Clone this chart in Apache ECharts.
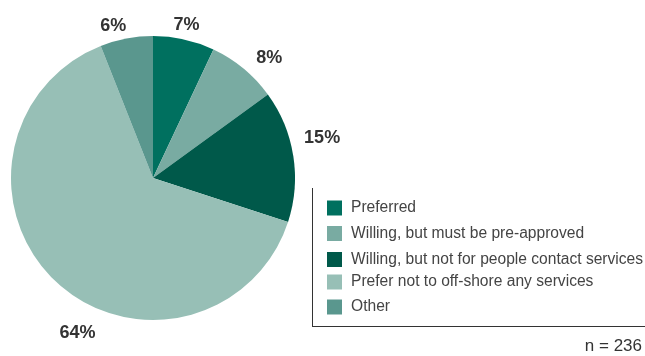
<!DOCTYPE html>
<html>
<head>
<meta charset="utf-8">
<script src="https://cdn.jsdelivr.net/npm/echarts@6/dist/echarts.min.js"></script>
<style>
  html, body { margin: 0; padding: 0; background: #fff; }
  #chart { width: 645px; height: 356px; }
</style>
</head>
<body>
<div id="chart"></div>
<script>
// Survey responses on off-shoring services
const categories = [
  'Preferred',
  'Willing, but must be pre-approved',
  'Willing, but not for people contact services',
  'Prefer not to off-shore any services',
  'Other'
];
const shares = [7, 8, 15, 64, 6];
const sliceColors = ['#00705f', '#79aba2', '#00594a', '#97bfb6', '#5a978e'];
const sampleNote = 'n = 236';

// small hand adjustments so percentage labels sit clear of the legend
const labelNudges = [[-18, -3], [0, -1], [-6, -16], [53, 43], [7, -1]];
// vertical position of each legend row
const legendRowTops = [200, 225.5, 251.5, 274, 299];

const chart = echarts.init(document.getElementById('chart'), null, { renderer: 'canvas' });

const FONT = '"Liberation Sans", Arial, Helvetica, sans-serif';

const legends = categories.map((name, i) => ({
  orient: 'vertical',
  left: 322,
  top: legendRowTops[i],
  padding: [0, 5],
  itemWidth: 15,
  itemHeight: 15,
  icon: 'rect',
  selectedMode: false,
  textStyle: { fontFamily: FONT, fontSize: 15.6, color: '#444', lineHeight: 15, padding: [0, 0, 0, 4] },
  data: [name]
}));

chart.setOption({
  animation: false,
  color: sliceColors,
  legend: legends,
  graphic: [
    { type: 'line', shape: { x1: 312.5, y1: 188, x2: 312.5, y2: 326.5 }, style: { stroke: '#333', lineWidth: 1 } },
    { type: 'line', shape: { x1: 312, y1: 326.5, x2: 645, y2: 326.5 }, style: { stroke: '#333', lineWidth: 1 } },
    { type: 'text', right: 3, top: 338, style: { text: sampleNote, font: '17px ' + FONT, fill: '#333' } }
  ],
  series: [{
    type: 'pie',
    center: [153, 178],
    radius: 142,
    startAngle: 90,
    clockwise: true,
    data: categories.map((name, i) => ({ name, value: shares[i] })),
    label: {
      show: true,
      position: 'outside',
      formatter: '{c}%',
      fontFamily: FONT,
      fontSize: 18,
      fontWeight: 'bold',
      color: '#333',
      overflow: 'none'
    },
    labelLine: { show: false, length: 12, length2: 0 },
    labelLayout: function (params) {
      const n = labelNudges[params.dataIndex];
      return { dx: n[0], dy: n[1] };
    },
    emphasis: { disabled: true }
  }]
});
</script>
</body>
</html>
